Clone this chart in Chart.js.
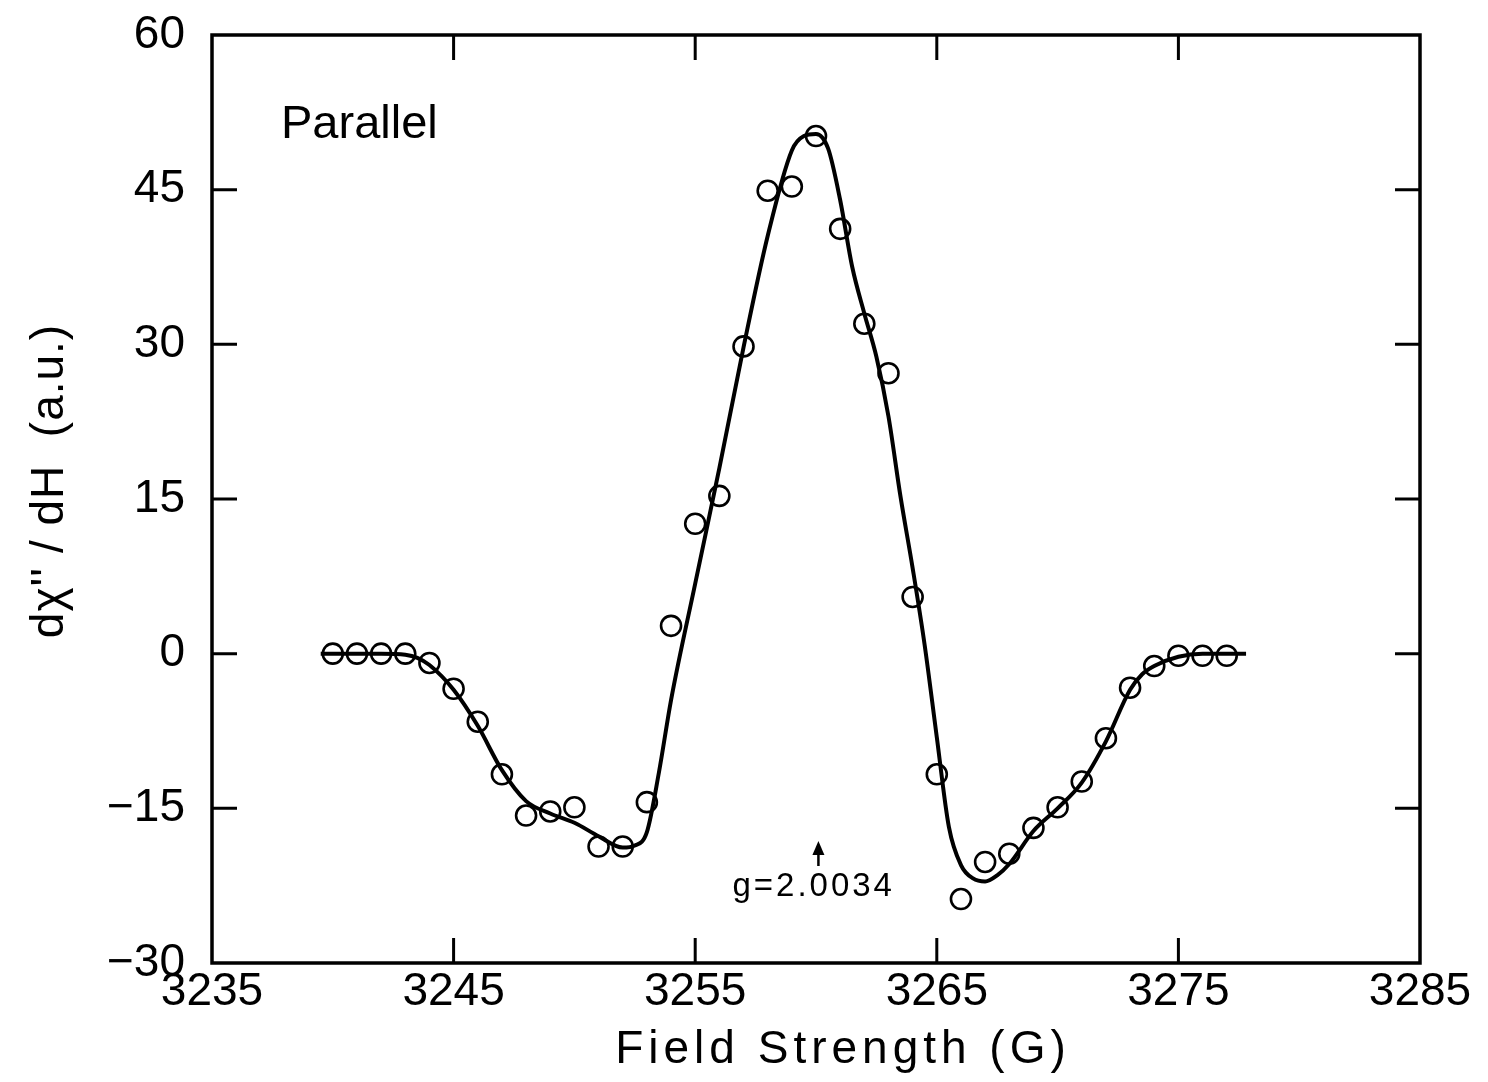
<!DOCTYPE html>
<html>
<head>
<meta charset="utf-8">
<title>Parallel - dX''/dH</title>
<script src="https://cdn.jsdelivr.net/npm/chart.js@4.4.1/dist/chart.umd.min.js"></script>
<style>
  html, body { margin: 0; padding: 0; background: #fff; }
  canvas { display: block; }
</style>
</head>
<body>
<canvas id="esrChart" width="1488" height="1082"></canvas>
<script>
// measured points (open circles)
const fieldPoints = [3240, 3241, 3242, 3243, 3244, 3245, 3246, 3247, 3248, 3249,
  3250, 3251, 3252, 3253, 3254, 3255, 3256, 3257, 3258, 3259,
  3260, 3261, 3262, 3263, 3264, 3265, 3266, 3267, 3268, 3269,
  3270, 3271, 3272, 3273, 3274, 3275, 3276, 3277];
const signalPoints = [0, 0, 0, 0, -0.9, -3.4, -6.6, -11.7, -15.7, -15.3,
  -14.9, -18.7, -18.7, -14.4, 2.7, 12.6, 15.3, 29.8, 44.9, 45.3,
  50.2, 41.2, 32.0, 27.2, 5.5, -11.7, -23.8, -20.2, -19.4, -16.9,
  -14.9, -12.4, -8.2, -3.3, -1.2, -0.2, -0.2, -0.2];

// fitted curve
const fieldCurve = [3239.5, 3240, 3241, 3242, 3243, 3243.5, 3244, 3245, 3246, 3247,
  3248, 3249, 3250, 3251, 3252, 3252.5, 3253, 3253.5, 3254, 3255,
  3256, 3257, 3258, 3259, 3259.5, 3260, 3260.5, 3261, 3261.5, 3262,
  3262.5, 3263, 3263.5, 3264, 3264.5, 3265, 3265.5, 3266, 3266.5, 3267,
  3267.5, 3268, 3269, 3270, 3271, 3272, 3273, 3273.5, 3274, 3275,
  3276, 3277, 3277.8];
const signalCurve = [0, 0, 0, 0, -0.1, -0.4, -1.1, -3.5, -7.0, -11.3,
  -14.3, -15.5, -16.4, -17.7, -18.8, -18.6, -17.3, -11.5, -4.5, 6.8,
  18.0, 29.7, 40.5, 48.8, 50.2, 50.4, 49.0, 44.0, 37.5, 33.0,
  28.8, 23.0, 15.2, 8.3, 0.8, -8.1, -16.8, -20.5, -21.8, -22.1,
  -21.5, -20.4, -17.2, -15.0, -12.5, -8.5, -3.5, -2.0, -1.2, -0.3,
  0, 0, 0];

const xTickValues = [3235, 3245, 3255, 3265, 3275, 3285];
const yTickValues = [-30, -15, 0, 15, 30, 45, 60];

const gMarkField = 3260.1;
const gMarkText = 'g=2.0034';
const panelLabel = 'Parallel';
const xTitle = 'Field Strength (G)';
const yTitle = 'dχ\'\' / dH  (a.u.)';

const FONT = '"Liberation Sans", Arial, sans-serif';

function toXY(xs, ys) {
  return xs.map((v, i) => ({ x: v, y: ys[i] }));
}

// frame, inward ticks, titles and notes
const decorations = {
  id: 'decorations',
  afterDraw(chart) {
    const { ctx, chartArea: a, scales: { x, y } } = chart;
    const len = 25;
    ctx.save();
    ctx.strokeStyle = '#000';
    ctx.fillStyle = '#000';
    ctx.lineCap = 'butt';
    ctx.lineWidth = 3.5;
    ctx.strokeRect(a.left, a.top, a.right - a.left, a.bottom - a.top);

    ctx.lineWidth = 3;
    ctx.beginPath();
    x.ticks.forEach(t => {
      const px = x.getPixelForValue(t.value);
      if (px < a.left + 2 || px > a.right - 2) return;
      ctx.moveTo(px, a.bottom); ctx.lineTo(px, a.bottom - len);
      ctx.moveTo(px, a.top); ctx.lineTo(px, a.top + len);
    });
    y.ticks.forEach(t => {
      const py = y.getPixelForValue(t.value);
      if (py < a.top + 2 || py > a.bottom - 2) return;
      ctx.moveTo(a.left, py); ctx.lineTo(a.left + len, py);
      ctx.moveTo(a.right, py); ctx.lineTo(a.right - len, py);
    });
    ctx.stroke();

    // axis titles
    ctx.font = '46px ' + FONT;
    ctx.letterSpacing = '5px';
    ctx.textAlign = 'center';
    ctx.textBaseline = 'middle';
    ctx.fillText(xTitle, (a.left + a.right) / 2 + 27, 1050);

    ctx.save();
    ctx.translate(50, 481);
    ctx.rotate(-Math.PI / 2);
    ctx.letterSpacing = '1px';
    ctx.fillText(yTitle, 0, 0);
    ctx.restore();

    // panel label
    ctx.letterSpacing = '0px';
    ctx.textAlign = 'left';
    ctx.textBaseline = 'alphabetic';
    ctx.font = '47px ' + FONT;
    ctx.fillText(panelLabel, 281, 138);

    // g marker
    const gx = x.getPixelForValue(gMarkField);
    ctx.lineWidth = 2.5;
    ctx.beginPath();
    ctx.moveTo(gx, 866); ctx.lineTo(gx, 850);
    ctx.stroke();
    ctx.beginPath();
    ctx.moveTo(gx, 841); ctx.lineTo(gx - 6, 855); ctx.lineTo(gx + 6, 855);
    ctx.closePath();
    ctx.fill();
    ctx.font = '33px ' + FONT;
    ctx.letterSpacing = '3px';
    ctx.fillText(gMarkText, gx - 86, 896);
    ctx.restore();
  }
};

new Chart(document.getElementById('esrChart'), {
  type: 'scatter',
  data: {
    datasets: [
      {
        label: 'fit',
        data: toXY(fieldCurve, signalCurve),
        showLine: true,
        borderColor: '#000',
        borderWidth: 4,
        pointRadius: 0,
        cubicInterpolationMode: 'monotone',
        order: 2
      },
      {
        label: 'data',
        data: toXY(fieldPoints, signalPoints),
        showLine: false,
        pointStyle: 'circle',
        pointRadius: 10,
        borderColor: '#000',
        borderWidth: 2.6,
        backgroundColor: 'rgba(0,0,0,0)',
        order: 1
      }
    ]
  },
  options: {
    responsive: false,
    animation: false,
    layout: { padding: { top: 35, right: 68, left: 0, bottom: 0 } },
    plugins: {
      legend: { display: false },
      tooltip: { enabled: false }
    },
    scales: {
      x: {
        type: 'linear',
        min: 3235,
        max: 3285,
        afterBuildTicks: s => { s.ticks = xTickValues.map(v => ({ value: v })); },
        afterFit: s => { s.height = 119; s.paddingLeft = 0; s.paddingRight = 0; },
        grid: { display: false, drawTicks: false },
        border: { display: false },
        ticks: {
          color: '#000',
          padding: 2,
          maxRotation: 0,
          font: { family: FONT, size: 46 },
          callback: v => String(v)
        }
      },
      y: {
        type: 'linear',
        min: -30,
        max: 60,
        afterBuildTicks: s => { s.ticks = yTickValues.map(v => ({ value: v })); },
        afterFit: s => { s.width = 212; s.paddingTop = 0; s.paddingBottom = 0; },
        grid: { display: false, drawTicks: false },
        border: { display: false },
        ticks: {
          color: '#000',
          padding: 27,
          font: { family: FONT, size: 46 },
          callback: v => String(v).replace('-', '\u2212')
        }
      }
    }
  },
  plugins: [decorations]
});
</script>
</body>
</html>
